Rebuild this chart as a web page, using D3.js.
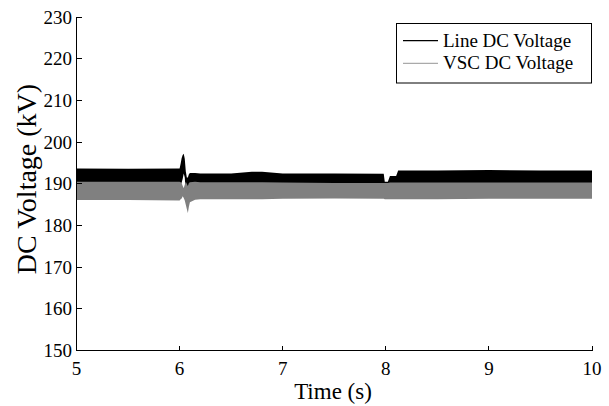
<!DOCTYPE html>
<html><head><meta charset="utf-8">
<script src="https://cdn.jsdelivr.net/npm/d3@7/dist/d3.min.js"></script>
<style>body{margin:0;background:#fff}svg{display:block}text{font-family:"Liberation Serif","Times New Roman",serif;fill:#000}</style>
</head><body><svg id="c" width="609" height="406"></svg>
<script>
// Envelope readings (kV) of the dense oscillating traces
const time      = [5.0, 5.5, 6.0, 6.01, 6.02, 6.03, 6.04, 6.05, 6.06, 6.07, 6.08, 6.09, 6.1, 6.15, 6.2, 6.5, 6.7, 6.8, 7.0, 7.5, 7.98, 7.99, 8.02, 8.04, 8.1, 8.12, 8.5, 9.0, 9.5, 10.0];
const lineUpper = [193.7,193.6,193.7,194.8,196.2,196.9,197.2,196.0,193.0,191.5,191.5,192.3,192.6,192.6,192.5,192.5,192.9,192.9,192.5,192.5,192.4,190.5,190.5,191.9,191.9,193.2,193.2,193.3,193.2,193.2];
const lineLower = [189.5,189.5,189.5,189.8,190.3,191.2,192.5,191.5,188.0,187.4,188.0,189.0,189.3,189.5,189.5,189.5,189.5,189.5,189.5,189.5,189.5,187.6,187.6,189.5,189.5,189.5,189.5,189.5,189.5,189.5];
const vscUpper  = [190.5,190.5,190.5,190.4,190.2,189.5,189.0,189.8,190.5,190.0,189.5,190.2,190.4,190.5,190.4,190.4,190.4,190.4,190.3,190.2,190.2,190.2,190.2,190.3,190.3,190.3,190.3,190.3,190.3,190.3];
const vscLower  = [186.1,186.1,186.0,186.3,186.5,187.0,186.6,186.0,185.0,184.0,183.0,184.5,185.6,186.2,186.3,186.3,186.3,186.3,186.4,186.5,186.4,186.3,186.3,186.3,186.3,186.3,186.3,186.4,186.4,186.4];
const xTicks = [5, 6, 7, 8, 9, 10];
const yTicks = [150, 160, 170, 180, 190, 200, 210, 220, 230];
const seriesNames = ["Line DC Voltage", "VSC DC Voltage"];

const svg = d3.select("#c");
const x = d3.scaleLinear().domain([5, 10]).range([76.5, 592]);
const y = d3.scaleLinear().domain([150, 230]).range([350.7, 17]);

const band = (up, lo) => d3.area()
  .x((d, i) => x(time[i])).y0((d, i) => y(lo[i])).y1((d, i) => y(up[i]));

svg.append("path").attr("d", band(lineUpper, lineLower)(time)).attr("fill", "#000");
svg.append("path").attr("d", band(vscUpper, vscLower)(time)).attr("fill", "#808080");

// axes
const ax = svg.append("g").attr("stroke", "#000").attr("stroke-width", 1).attr("shape-rendering", "crispEdges");
ax.append("line").attr("x1", x(5)).attr("x2", x(10)).attr("y1", y(150)).attr("y2", y(150));
ax.append("line").attr("x1", x(5)).attr("x2", x(5)).attr("y1", y(150)).attr("y2", y(230));
xTicks.forEach(t => ax.append("line").attr("x1", x(t)).attr("x2", x(t)).attr("y1", y(150)).attr("y2", y(150) - 5));
yTicks.forEach(t => ax.append("line").attr("x1", x(5)).attr("x2", x(5) + 5).attr("y1", y(t)).attr("y2", y(t)));

svg.append("g").selectAll("text").data(xTicks).join("text")
  .attr("x", d => x(d)).attr("y", y(150) + 24).attr("text-anchor", "middle")
  .attr("font-size", 19).text(d => d);
svg.append("g").selectAll("text").data(yTicks).join("text")
  .attr("x", 72).attr("y", d => y(d) + 6.5).attr("text-anchor", "end")
  .attr("font-size", 19).text(d => d);

svg.append("text").attr("x", 333).attr("y", 399).attr("text-anchor", "middle")
  .attr("font-size", 23).text("Time (s)");
svg.append("text").attr("transform", "translate(36,179) rotate(-90)").attr("text-anchor", "middle")
  .attr("font-size", 28).text("DC Voltage (kV)");

// legend
const lg = svg.append("g");
lg.append("rect").attr("x", 396.5).attr("y", 23.5).attr("width", 195).attr("height", 59.5)
  .attr("fill", "#fff").attr("stroke", "#000").attr("stroke-width", 1);
const legColors = ["#000", "#aaa"];
seriesNames.forEach((n, i) => {
  const yy = 40.7 + i * 22.6;
  lg.append("line").attr("x1", 403).attr("x2", 438).attr("y1", yy).attr("y2", yy)
    .attr("stroke", legColors[i]).attr("stroke-width", 1.2);
  lg.append("text").attr("x", 443).attr("y", yy + 6).attr("font-size", 19).text(n);
});
</script></body></html>
